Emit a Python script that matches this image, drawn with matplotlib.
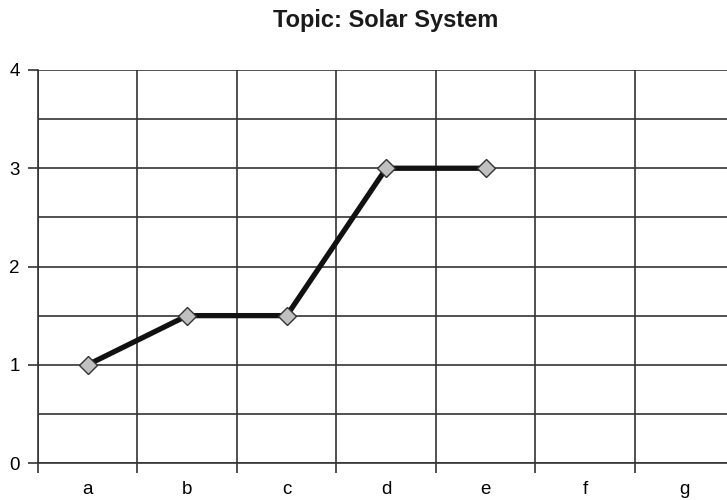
import numpy as np
import matplotlib.pyplot as plt

plt.rcParams['font.family'] = ['Liberation Sans', 'DejaVu Sans']

categories = ["a", "b", "c", "d", "e", "f", "g"]
values = [1, 1.5, 1.5, 3, 3]

fig = plt.figure(figsize=(7.27, 5), dpi=100)
ax = fig.add_axes([38 / 727, 37 / 500, 696.5 / 727, 393 / 500])

x = np.arange(len(values))
ax.plot(x, values, color="#111111", linewidth=3.8, marker="D", markersize=9,
        markerfacecolor="#c0c0c0", markeredgecolor="#333333", markeredgewidth=1,
        zorder=5, clip_on=False)

ax.set_xlim(-0.5, len(categories) - 0.5)
ax.set_ylim(0, 4)

# category labels at centres, ticks at boundaries
ax.set_xticks(np.arange(len(categories)) - 0.5)
ax.set_xticklabels([])
ax.set_xticks(np.arange(len(categories)), minor=True)
ax.set_xticklabels(categories, minor=True)
ax.tick_params(axis="x", which="major", direction="out", length=7, width=1.2, color="#333333")
ax.tick_params(axis="x", which="minor", length=0, pad=13, labelsize=13.5)

ax.set_yticks([0, 1, 2, 3, 4])
ax.set_yticks(np.arange(0.5, 4, 1), minor=True)
ax.tick_params(axis="y", which="major", direction="out", length=7, width=1.2,
               color="#333333", labelsize=13.5, pad=6)
ax.tick_params(axis="y", which="minor", length=0)

ax.grid(True, which="both", axis="y", color="#333333", linewidth=1.2)
ax.grid(True, which="major", axis="x", color="#333333", linewidth=1.2)

for s in ["top", "right"]:
    ax.spines[s].set_visible(False)
for s in ["left", "bottom"]:
    ax.spines[s].set_color("#333333")
    ax.spines[s].set_linewidth(1.2)

fig.text(386 / 727, 1 - 20 / 500, "Topic: Solar System", ha="center", va="center",
         fontsize=17, fontweight="bold", color="#1a1a1a")

fig.savefig("out.png", dpi=100)
